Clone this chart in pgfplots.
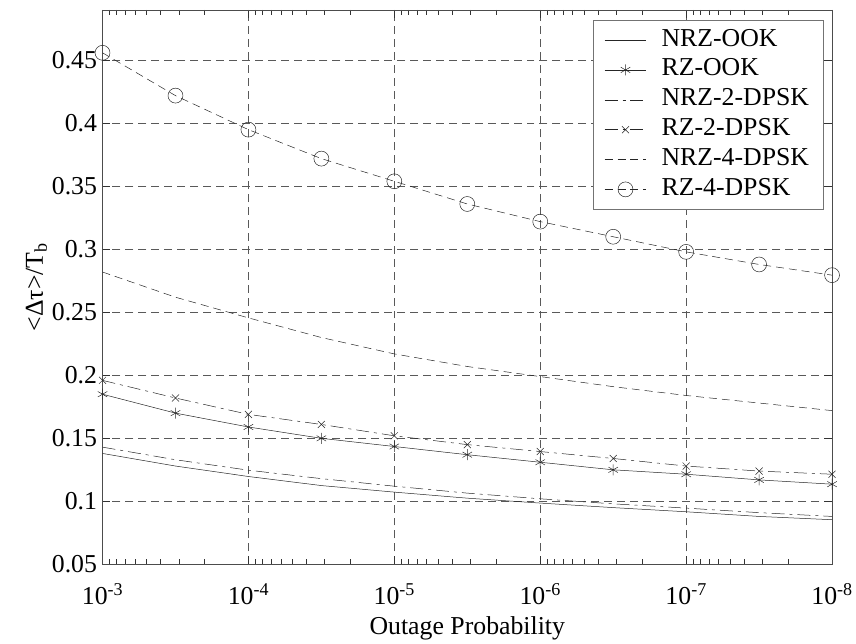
\documentclass[border=0pt]{standalone}
\usepackage{fontspec}
\setmainfont{Liberation Serif}
\usepackage{pgfplots}
\pgfplotsset{compat=1.18}

\begin{document}
\begin{tikzpicture}
\begin{axis}[
    scale only axis,
    width=733bp, height=557bp,
    xmode=log, x dir=reverse,
    xmin=1e-8, xmax=1e-3,
    ymin=0.05, ymax=0.49,
    xtick={1e-3,1e-4,1e-5,1e-6,1e-7,1e-8},
    xticklabels={10\textsuperscript{-3},10\textsuperscript{-4},10\textsuperscript{-5},10\textsuperscript{-6},10\textsuperscript{-7},10\textsuperscript{-8}},
    minor xtick={2e-8,3e-8,4e-8,5e-8,6e-8,7e-8,8e-8,9e-8,
                 2e-7,3e-7,4e-7,5e-7,6e-7,7e-7,8e-7,9e-7,
                 2e-6,3e-6,4e-6,5e-6,6e-6,7e-6,8e-6,9e-6,
                 2e-5,3e-5,4e-5,5e-5,6e-5,7e-5,8e-5,9e-5,
                 2e-4,3e-4,4e-4,5e-4,6e-4,7e-4,8e-4,9e-4},
    ytick={0.05,0.1,0.15,0.2,0.25,0.3,0.35,0.4,0.45},
    yticklabel style={/pgf/number format/fixed,
        /pgf/number format/precision=2,
        /pgf/number format/assume math mode=true, xshift=-2bp},
    xticklabel style={yshift=-16bp},
    font=\fontsize{26}{29}\selectfont,
    tick label style={font=\fontsize{26}{29}\selectfont},
    major tick length=8bp, minor tick length=5bp,
    tick style={black!80, line width=0.5bp},
    axis line style={black!70, line width=0.6bp},
    grid=major,
    major grid style={dash pattern=on 8bp off 5bp, black!65, line width=0.5bp},
    xlabel={Outage Probability},
    ylabel={<Δτ>/T\textsubscript{b}},
    xlabel style={yshift=-5bp},
    ylabel style={yshift=-2bp},
    legend cell align=left,
    legend style={at={(0.988,0.982)}, anchor=north east,
        draw=black!55, line width=0.5bp, fill=white,
        font=\fontsize{26}{29}\selectfont,
        nodes={text height=18bp, text depth=6bp, inner sep=3bp},
        /tikz/column 1/.style={column sep=12bp},
        row sep=0bp, inner xsep=11bp, inner ysep=5bp},
    legend image code/.code={\draw[mark repeat=2,mark phase=2,#1]
        plot coordinates {(0bp,0bp) (21bp,0bp) (42bp,0bp)};},
    every axis plot/.append style={line width=0.5bp, black!85},
]

% NRZ-OOK
\addplot[solid, no marks] coordinates {
(1e-3,0.138) (3.1623e-4,0.128) (1e-4,0.1197) (3.1623e-5,0.1125) (1e-5,0.1073)
(3.1623e-6,0.1025) (1e-6,0.0986) (3.1623e-7,0.095) (1e-7,0.0917) (3.1623e-8,0.088) (1e-8,0.0854)};
\addlegendentry{NRZ-OOK}

% RZ-OOK
\addplot[solid, mark=asterisk, mark size=5.5bp] coordinates {
(1e-3,0.185) (3.1623e-4,0.170) (1e-4,0.159) (3.1623e-5,0.150) (1e-5,0.1435)
(3.1623e-6,0.137) (1e-6,0.131) (3.1623e-7,0.125) (1e-7,0.1215) (3.1623e-8,0.117) (1e-8,0.1136)};
\addlegendentry{RZ-OOK}

% NRZ-2-DPSK
\addplot[dash pattern=on 13bp off 5bp on 3bp off 5bp, no marks] coordinates {
(1e-3,0.143) (3.1623e-4,0.133) (1e-4,0.1247) (3.1623e-5,0.118) (1e-5,0.112)
(3.1623e-6,0.1065) (1e-6,0.102) (3.1623e-7,0.098) (1e-7,0.0946) (3.1623e-8,0.091) (1e-8,0.088)};
\addlegendentry{NRZ-2-DPSK}

% RZ-2-DPSK
\addplot[dash pattern=on 13bp off 5bp on 3bp off 5bp, mark=x, mark size=5bp,
    mark options={solid}] coordinates {
(1e-3,0.196) (3.1623e-4,0.182) (1e-4,0.169) (3.1623e-5,0.161) (1e-5,0.152)
(3.1623e-6,0.145) (1e-6,0.1395) (3.1623e-7,0.134) (1e-7,0.128) (3.1623e-8,0.124) (1e-8,0.1215)};
\addlegendentry{RZ-2-DPSK}

% NRZ-4-DPSK
\addplot[dash pattern=on 8bp off 5bp, no marks] coordinates {
(1e-3,0.282) (3.1623e-4,0.262) (1e-4,0.2456) (3.1623e-5,0.230) (1e-5,0.217)
(3.1623e-6,0.207) (1e-6,0.199) (3.1623e-7,0.191) (1e-7,0.184) (3.1623e-8,0.178) (1e-8,0.172)};
\addlegendentry{NRZ-4-DPSK}

% RZ-4-DPSK
\addplot[dash pattern=on 8bp off 5bp, mark=o, mark size=7.5bp,
    mark options={solid}] coordinates {
(1e-3,0.456) (3.1623e-4,0.422) (1e-4,0.395) (3.1623e-5,0.372) (1e-5,0.354)
(3.1623e-6,0.336) (1e-6,0.322) (3.1623e-7,0.310) (1e-7,0.298) (3.1623e-8,0.288) (1e-8,0.2795)};
\addlegendentry{RZ-4-DPSK}

\end{axis}
% page margins as in the reference
\path ([xshift=-103bp,yshift=10bp]current axis.north west)
      ([xshift=20bp,yshift=-72bp]current axis.south east);
\end{tikzpicture}
\end{document}
